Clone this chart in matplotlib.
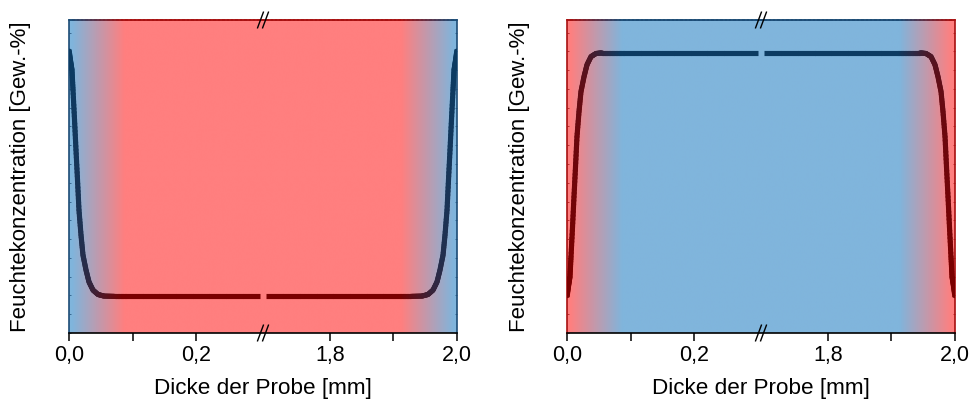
import numpy as np
import matplotlib
matplotlib.use('Agg')
import matplotlib.pyplot as plt
from matplotlib.collections import LineCollection
from matplotlib.colors import to_rgb
from matplotlib.ticker import MultipleLocator, FixedLocator

plt.rcParams['font.family'] = ['Liberation Sans', 'DejaVu Sans']

# moisture profile near one surface of the sample (depth in mm, value 0..1)
edge_x = [0.0, 0.0024, 0.0047, 0.0063, 0.0087, 0.011, 0.0134, 0.0157, 0.0189,
          0.022, 0.0268, 0.0315, 0.0378, 0.0457, 0.0551, 0.0724, 0.09]
wet_edge_y = [0.905, 0.870, 0.840, 0.776, 0.681, 0.585, 0.489, 0.393, 0.313,
              0.249, 0.201, 0.163, 0.137, 0.123, 0.118, 0.117, 0.117]
dry_edge_y = [0.115, 0.150, 0.180, 0.244, 0.339, 0.435, 0.531, 0.627, 0.707,
              0.771, 0.819, 0.857, 0.883, 0.893, 0.895, 0.895, 0.895]

x_ticks = [0.0, 0.2, 1.8, 2.0]
x_tick_labels = ['0,0', '0,2', '1,8', '2,0']
x_minor = [0.1, 1.9]
break_lo, break_hi = 0.3, 1.7
GAP = 0.011

BG_BLUE, BG_RED = '#80b5dc', '#ff7f7f'
LN_BLUE, LN_RED = '#0c3b62', '#7a0000'
SP_BLUE, SP_RED = '#1c4c76', '#a81010'


def fwd(x):
    x = np.asarray(x, dtype=float)
    return np.where(x <= 1.0, x, x - (break_hi - break_lo) + GAP)


def inv(u):
    u = np.asarray(u, dtype=float)
    return np.where(u <= break_lo + GAP / 2, u, u + (break_hi - break_lo) - GAP)


def edge_weight(x):
    d = np.minimum(x, 2.0 - x)
    return np.clip((d - 0.005) / 0.082, 0, 1)


def blend(c_edge, c_mid, w):
    a = np.array(to_rgb(c_edge))
    b = np.array(to_rgb(c_mid))
    w = np.asarray(w)[:, None]
    return a[None, :] * (1 - w) + b[None, :] * w


def gradient_segments(xs, ys, n_sub=8):
    segs, mids = [], []
    for i in range(len(xs) - 1):
        t = np.linspace(0, 1, n_sub + 1)
        px = xs[i] + (xs[i + 1] - xs[i]) * t
        py = ys[i] + (ys[i + 1] - ys[i]) * t
        for k in range(n_sub):
            segs.append([(px[k], py[k]), (px[k + 1], py[k + 1])])
            mids.append(0.5 * (px[k] + px[k + 1]))
    return segs, np.array(mids)


def add_gradient_line(ax, xs, ys, c_edge, c_mid, lw):
    segs, mids = gradient_segments(xs, ys)
    cols = blend(c_edge, c_mid, edge_weight(mids))
    # inner pieces get round caps so they overlap without seams,
    # the two end pieces stay square
    ax.add_collection(LineCollection(segs[1:-1], colors=cols[1:-1], linewidths=lw,
                                     capstyle='round', zorder=3))
    ax.add_collection(LineCollection([segs[0], segs[-1]], colors=[cols[0], cols[-1]],
                                     linewidths=lw, capstyle='butt', zorder=3))


def draw_panel(ax, profile, wet_edges):
    edge_bg, mid_bg = (BG_BLUE, BG_RED) if wet_edges else (BG_RED, BG_BLUE)
    edge_ln, mid_ln = (LN_BLUE, LN_RED) if wet_edges else (LN_RED, LN_BLUE)
    edge_sp, mid_sp = (SP_BLUE, SP_RED) if wet_edges else (SP_RED, SP_BLUE)

    ax.set_xscale('function', functions=(fwd, inv))

    # background shading across the thickness
    frac = np.linspace(0, 1, 800)
    xs_bg = inv(frac * fwd(2.0))
    bg = blend(edge_bg, mid_bg, edge_weight(xs_bg))
    ax.imshow(bg[None, :, :], extent=(0, 1, 0, 1), transform=ax.transAxes,
              aspect='auto', interpolation='bilinear', zorder=0)

    # profile: left part up to the break, right part mirrored from the 2 mm side
    xl = list(edge_x) + [break_lo]
    yl = list(profile) + [profile[-1]]
    xr = [break_hi] + [2.0 - v for v in edge_x[::-1]]
    yr = [profile[-1]] + list(profile[::-1])
    add_gradient_line(ax, xl, yl, edge_ln, mid_ln, 3.7)
    add_gradient_line(ax, xr, yr, edge_ln, mid_ln, 3.7)

    ax.set_xlim(0, 2.0)
    ax.set_ylim(0, 1)

    # spines
    ax.spines['top'].set_visible(False)
    ax.spines['bottom'].set_color('black')
    ax.spines['bottom'].set_linewidth(1.2)
    for side in ('left', 'right'):
        ax.spines[side].set_color(edge_sp)
        ax.spines[side].set_linewidth(1.2)
    top_segs, top_mids = gradient_segments([0.0, 1.0], [1.0, 1.0], n_sub=300)
    top_x = inv(top_mids * fwd(2.0))
    ax.add_collection(LineCollection(top_segs, colors=blend(edge_sp, mid_sp, edge_weight(top_x)),
                                     linewidths=1.2, transform=ax.transAxes,
                                     capstyle='projecting', clip_on=False, zorder=4))

    # ticks
    ax.xaxis.set_major_locator(FixedLocator(x_ticks))
    ax.xaxis.set_minor_locator(FixedLocator(x_minor))
    ax.set_xticklabels(x_tick_labels)
    ax.tick_params(axis='x', which='major', direction='out', length=6, width=1.1,
                   labelsize=15.5, pad=3)
    ax.tick_params(axis='x', which='minor', direction='out', length=6, width=1.1)
    ax.yaxis.set_major_locator(MultipleLocator(0.06))
    ax.tick_params(axis='y', which='both', direction='in', length=1.6, width=0.5,
                   left=True, right=True, labelleft=False, color=edge_sp)

    # axis break marks
    for yb in (0.0, 1.0):
        for dx in (-0.0065, 0.0065):
            ax.plot([0.5 + dx - 0.0075, 0.5 + dx + 0.0075], [yb - 0.025, yb + 0.025],
                    transform=ax.transAxes, color='black', lw=1.0,
                    clip_on=False, zorder=5)

    ax.set_xlabel('Dicke der Probe [mm]', fontsize=16.2, labelpad=8)
    ax.set_ylabel('Feuchtekonzentration [Gew.-%]', fontsize=16, labelpad=27)


fig = plt.figure(figsize=(9.77, 4.18), dpi=100)
ax1 = fig.add_axes([69 / 977, 1 - 333 / 418, 388 / 977, 313 / 418])
ax2 = fig.add_axes([567 / 977, 1 - 333 / 418, 388 / 977, 313 / 418])

draw_panel(ax1, wet_edge_y, wet_edges=True)
draw_panel(ax2, dry_edge_y, wet_edges=False)

fig.savefig('out.png', dpi=100)
